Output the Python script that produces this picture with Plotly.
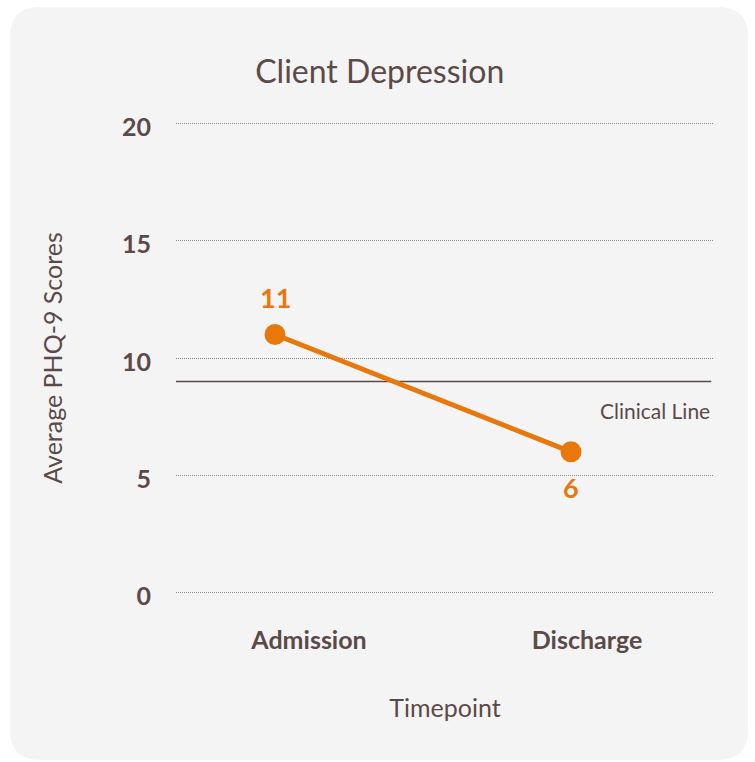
import plotly.graph_objects as go

# Average PHQ-9 scores at each timepoint
timepoints = ["Admission", "Discharge"]
phq9_scores = [11, 6]
label_sides = ["above", "below"]
clinical_cutoff = 9
y_ticks = [0, 5, 10, 15, 20]
y_min, y_max = 0, 20
y_pad = 0.1  # keeps the 0 and 20 gridlines inside the plot area

W, H = 755, 762
PX_PER_UNIT = 23.5
ML, MR = 176, 41
MT = round(123 - y_pad * PX_PER_UNIT)
MB = round(H - 593 - y_pad * PX_PER_UNIT)
PW, PH = W - ML - MR, H - MT - MB

TEXT = "#5b4a48"
ORANGE = "#e8770c"
CARD = "#f4f4f4"
FONT = "Lato, 'Open Sans', sans-serif"


def px_x(p):
    return (p - ML) / PW


def px_y(p):
    return (H - MB - p) / PH


# rounded card behind the chart (pixel geometry -> paper coords)
x0, x1, y0, y1, r = 10, 748, 7, 760, 30
path = (
    f"M {px_x(x0 + r)} {px_y(y0)} L {px_x(x1 - r)} {px_y(y0)} "
    f"Q {px_x(x1)} {px_y(y0)} {px_x(x1)} {px_y(y0 + r)} "
    f"L {px_x(x1)} {px_y(y1 - r)} Q {px_x(x1)} {px_y(y1)} {px_x(x1 - r)} {px_y(y1)} "
    f"L {px_x(x0 + r)} {px_y(y1)} Q {px_x(x0)} {px_y(y1)} {px_x(x0)} {px_y(y1 - r)} "
    f"L {px_x(x0)} {px_y(y0 + r)} Q {px_x(x0)} {px_y(y0)} {px_x(x0 + r)} {px_y(y0)} Z"
)

fig = go.Figure()

fig.add_trace(
    go.Scatter(
        x=list(range(len(timepoints))),
        y=phq9_scores,
        mode="lines+markers",
        line=dict(color=ORANGE, width=5),
        marker=dict(color=ORANGE, size=21),
        cliponaxis=False,
        showlegend=False,
        hoverinfo="skip",
    )
)

# value labels above / below each point
value_labels = [
    dict(
        text=str(v),
        x=i,
        y=v,
        xref="x",
        yref="y",
        showarrow=False,
        xanchor="center",
        yanchor="middle",
        yshift=37 if side == "above" else -36,
        font=dict(family=FONT, size=27, color=ORANGE, weight=700),
    )
    for i, (v, side) in enumerate(zip(phq9_scores, label_sides))
]

fig.update_layout(
    width=W,
    height=H,
    margin=dict(l=ML, r=MR, t=MT, b=MB),
    paper_bgcolor="white",
    plot_bgcolor=CARD,
    font=dict(family=FONT, color=TEXT),
    title=dict(
        text="Client Depression",
        x=0.503,
        xref="container",
        xanchor="center",
        y=1 - 72 / H,
        yref="container",
        yanchor="middle",
        font=dict(family=FONT, size=32, color=TEXT),
    ),
    xaxis=dict(
        range=[-99 / 296, -99 / 296 + PW / 296],
        showticklabels=False,
        showgrid=False,
        zeroline=False,
        showline=False,
        fixedrange=True,
    ),
    xaxis2=dict(
        overlaying="x",
        side="bottom",
        range=[-133 / 278, -133 / 278 + PW / 278],
        tickvals=list(range(len(timepoints))),
        ticktext=timepoints,
        tickfont=dict(family=FONT, size=25, color=TEXT, weight=700),
        ticks="",
        ticklabelstandoff=28,
        showgrid=False,
        zeroline=False,
        showline=False,
        title=dict(
            text="Timepoint",
            font=dict(family=FONT, size=25, color=TEXT),
            standoff=46,
        ),
    ),
    yaxis=dict(
        range=[y_min - y_pad, y_max + y_pad],
        tickvals=y_ticks,
        tickfont=dict(family=FONT, size=25, color=TEXT, weight=700),
        ticklabelstandoff=24,
        ticklabelshift=4,
        showgrid=True,
        gridcolor="#8c8c8c",
        griddash="1px,1px",
        gridwidth=1,
        zeroline=False,
        showline=False,
        title=dict(
            text="Average PHQ-9 Scores",
            font=dict(family=FONT, size=25, color=TEXT),
            standoff=52,
        ),
    ),
    shapes=[
        dict(
            type="path",
            path=path,
            xref="paper",
            yref="paper",
            fillcolor=CARD,
            line=dict(width=0),
            layer="below",
        ),
        dict(
            type="line",
            xref="paper",
            yref="y",
            x0=0,
            x1=0.995,
            y0=clinical_cutoff,
            y1=clinical_cutoff,
            line=dict(color=TEXT, width=1.5),
            layer="below",
        ),
    ],
    annotations=value_labels
    + [
        dict(
            text="Clinical Line",
            xref="paper",
            yref="y",
            x=0.997,
            y=clinical_cutoff,
            xanchor="right",
            yanchor="middle",
            yshift=-29,
            showarrow=False,
            font=dict(family=FONT, size=21, color=TEXT),
        )
    ],
)

# invisible trace so the label axis is laid out
fig.add_trace(
    go.Scatter(
        x=[0, 1], y=[None, None], xaxis="x2", mode="markers",
        showlegend=False, hoverinfo="skip",
    )
)

fig.write_html("out.html")
